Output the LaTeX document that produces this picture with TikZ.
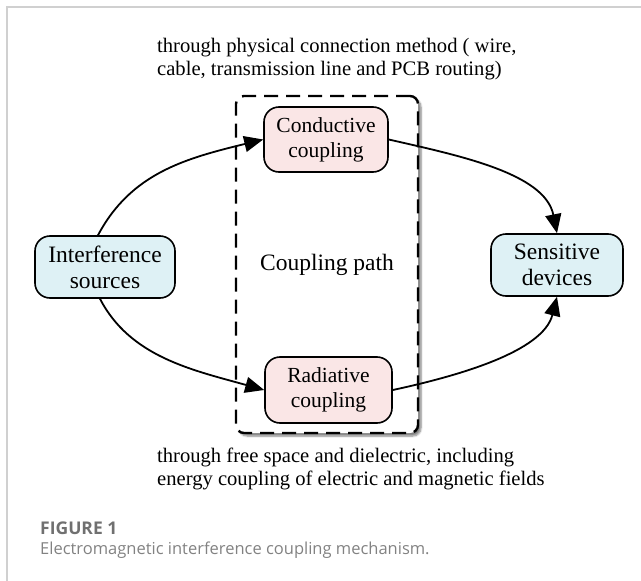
\documentclass[tikz,border=0pt]{standalone}
\usepackage{fontspec}
\setmainfont{Liberation Serif}
\newfontfamily\capfont{Open Sans}
\usetikzlibrary{arrows.meta,shadows.blur}
\definecolor{srcblue}{RGB}{222,241,245}
\definecolor{cplpink}{RGB}{250,230,230}
\definecolor{framegray}{RGB}{208,208,208}
\definecolor{capgray}{RGB}{112,112,112}
\definecolor{captext}{RGB}{130,130,130}
\tikzset{
  endbox/.style={rectangle, draw=black, line width=1.6pt, rounded corners=15pt,
                 fill=srcblue, minimum height=62pt, inner sep=2pt,
                 align=center, font=\fontsize{23.5}{26}\selectfont},
  cplbox/.style={endbox, fill=cplpink, minimum width=124pt, minimum height=65pt,
                 font=\fontsize{21.5}{25}\selectfont},
  pathbox/.style={rectangle, draw=black, line width=2.4pt, dash pattern=on 14pt off 8pt,
                  rounded corners=8pt, fill=white, minimum width=182pt, minimum height=337pt,
                  font=\fontsize{23.5}{26}\selectfont,
                  blur shadow={shadow xshift=3pt, shadow yshift=-3pt,
                               shadow blur steps=6, shadow opacity=50}},
  note/.style={anchor=west, align=left, inner sep=0pt, font=\fontsize{20.6}{22.5}\selectfont},
  arr/.style={-{Triangle[length=19pt,width=16pt]}, line width=1.8pt},
}
\begin{document}
\begin{tikzpicture}[x=1pt,y=-1pt]
  \useasboundingbox (0,0) rectangle (641,581);
  \draw[framegray, line width=1.2pt] (641,7) -- (7,7) -- (7,581);
  % coupling path frame
  \node[pathbox] (path) at (327,264.5) {Coupling path};
  \node[endbox, minimum width=140pt] (src) at (105,267) {Interference\\sources};
  \node[endbox, minimum width=132pt] (dev) at (557,265) {Sensitive\\devices};
  \node[cplbox] (cond) at (326,139.5) {Conductive\\coupling};
  \node[cplbox, minimum width=127pt, minimum height=66pt] (rad) at (328.5,390) {Radiative\\coupling};
  % paths
  \draw[arr] ([xshift=-7pt]src.north) .. controls +(33,-62) and +(-78,19) .. (cond.west);
  \draw[arr] (cond.east) .. controls +(70,16) and +(-12,-60) .. (dev.north);
  \draw[arr] ([xshift=-5pt]src.south) .. controls +(30,58) and +(-72,-20) .. (rad.west);
  \draw[arr] (rad.east) .. controls +(65,-14) and +(-14,55) .. (dev.south);
  \node[note] (top) at (157,59) {through physical connection method ( wire,\\cable, transmission line and PCB routing)};
  \node[note] (bottom) at (157,469) {through free space and dielectric, including\\energy coupling of electric and magnetic fields};
  % caption
  \node[anchor=west, inner sep=0pt, text=capgray, font=\capfont\bfseries\fontsize{17.5}{20}\selectfont] (fig) at (40,528) {FIGURE 1};
  \node[anchor=west, inner sep=0pt, text=captext, font=\capfont\fontsize{16.5}{19}\selectfont] (cap) at (40,550) {Electromagnetic interference coupling mechanism.};
\end{tikzpicture}
\end{document}
